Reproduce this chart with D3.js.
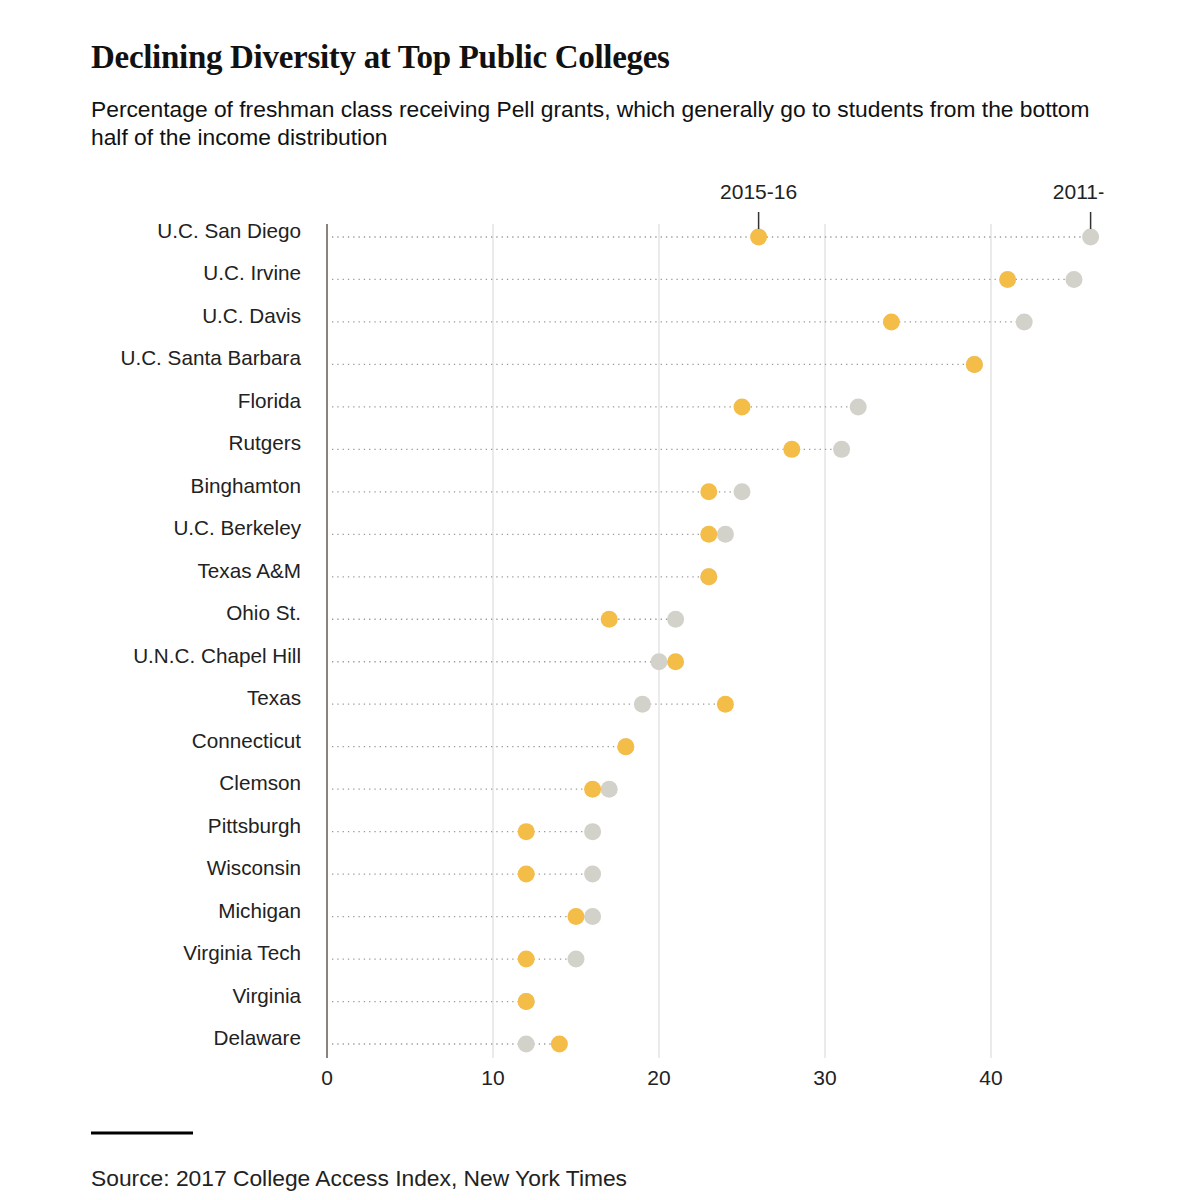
<!DOCTYPE html>
<meta charset="utf-8">
<script src="https://d3js.org/d3.v7.min.js"></script>
<style>
  body { margin: 0; background: #fff; }
</style>
<div id="my_dataviz"></div>
<script>
    // colleges, top to bottom
    var colleges = ["U.C. San Diego", "U.C. Irvine", "U.C. Davis", "U.C. Santa Barbara", "Florida",
        "Rutgers", "Binghamton", "U.C. Berkeley", "Texas A&M", "Ohio St.", "U.N.C. Chapel Hill",
        "Texas", "Connecticut", "Clemson", "Pittsburgh", "Wisconsin", "Michigan",
        "Virginia Tech", "Virginia", "Delaware"];
    // percent of freshmen with Pell grants
    var pell2011 = [46, 45, 42, 39, 32, 31, 25, 24, 23, 21, 20, 19, 18, 17, 16, 16, 16, 15, 12, 12];
    var pell2015 = [26, 41, 34, 39, 25, 28, 23, 23, 23, 17, 21, 24, 18, 16, 12, 12, 15, 12, 12, 14];
    var xTicks = [0, 10, 20, 30, 40];

    var W = 1195, H = 1200;
    var svg = d3.select("#my_dataviz")
      .append("svg")
        .attr("width", W)
        .attr("height", H)
        .style("font-family", "'Liberation Sans', Arial, sans-serif");

    // title + subtitle
    svg.append("text")
        .attr("x", 91).attr("y", 68)
        .text("Declining Diversity at Top Public Colleges")
        .style("font-family", "'Liberation Serif', 'DejaVu Serif', serif")
        .style("font-weight", "bold")
        .style("font-size", "33px")
        .style("letter-spacing", "-0.3px")
        .attr("fill", "#111");
    svg.append("text")
        .attr("x", 91).attr("y", 117)
        .text("Percentage of freshman class receiving Pell grants, which generally go to students from the bottom")
        .style("font-size", "22.8px")
        .attr("fill", "#111");
    svg.append("text")
        .attr("x", 91).attr("y", 145)
        .text("half of the income distribution")
        .style("font-size", "22.8px")
        .attr("fill", "#111");

    var x = d3.scaleLinear().domain([0, 40]).range([327, 991]);
    var y = d3.scalePoint().domain(colleges).range([237, 1044]);

    // grid lines
    svg.append("g")
      .selectAll("line")
      .data(xTicks.slice(1))
      .enter().append("line")
        .attr("x1", function(d){ return x(d) })
        .attr("x2", function(d){ return x(d) })
        .attr("y1", 224).attr("y2", 1058)
        .attr("stroke", "#e4e4e4")
        .attr("stroke-width", 1.5);

    // tick labels
    svg.append("g")
      .selectAll("text")
      .data(xTicks)
      .enter().append("text")
        .attr("x", function(d){ return x(d) })
        .attr("y", 1085)
        .attr("text-anchor", "middle")
        .text(function(d){ return d })
        .style("font-size", "21px")
        .attr("fill", "#222");

    // zero axis
    svg.append("line")
        .attr("x1", x(0)).attr("x2", x(0))
        .attr("y1", 224).attr("y2", 1058)
        .attr("stroke", "#8c847c")
        .attr("stroke-width", 2);

    var rows = colleges.map(function(c, i){
        return { name: c, a: pell2011[i], b: pell2015[i] };
    });

    // dotted leaders
    svg.append("g")
      .selectAll("line")
      .data(rows)
      .enter().append("line")
        .attr("x1", 332)
        .attr("x2", function(d){ return x(Math.max(d.a, d.b)) })
        .attr("y1", function(d){ return y(d.name) })
        .attr("y2", function(d){ return y(d.name) })
        .attr("stroke", "#999")
        .attr("stroke-width", 1.3)
        .attr("stroke-dasharray", "1.3,4");

    // college labels
    svg.append("g")
      .selectAll("text")
      .data(rows)
      .enter().append("text")
        .attr("x", 301)
        .attr("y", function(d){ return y(d.name) + 1 })
        .attr("text-anchor", "end")
        .text(function(d){ return d.name })
        .style("font-size", "20.7px")
        .attr("fill", "#222");

    // 2011-12 dots
    svg.append("g")
      .selectAll("circle")
      .data(rows)
      .enter().append("circle")
        .attr("cx", function(d){ return x(d.a) })
        .attr("cy", function(d){ return y(d.name) })
        .attr("r", 8.5)
        .attr("fill", "#d2d1ca");

    // 2015-16 dots
    svg.append("g")
      .selectAll("circle")
      .data(rows)
      .enter().append("circle")
        .attr("cx", function(d){ return x(d.b) })
        .attr("cy", function(d){ return y(d.name) })
        .attr("r", 8.5)
        .attr("fill", "#f4bd48");

    // series annotations on top row (right one is cut off as in the original)
    svg.append("clipPath").attr("id", "clipR")
      .append("rect").attr("x", 0).attr("y", 0).attr("width", 1103.5).attr("height", H);
    var ann = [
        { label: "2015-16", v: rows[0].b },
        { label: "2011-12", v: rows[0].a }
    ];
    var annG = svg.append("g").attr("clip-path", "url(#clipR)");
    annG.selectAll("line")
      .data(ann)
      .enter().append("line")
        .attr("x1", function(d){ return x(d.v) })
        .attr("x2", function(d){ return x(d.v) })
        .attr("y1", 212).attr("y2", y(colleges[0]) - 8)
        .attr("stroke", "#333")
        .attr("stroke-width", 1.5);
    annG.selectAll("text")
      .data(ann)
      .enter().append("text")
        .attr("x", function(d){ return x(d.v) })
        .attr("y", 199)
        .attr("text-anchor", "middle")
        .text(function(d){ return d.label })
        .style("font-size", "21px")
        .attr("fill", "#222");

    // footer
    svg.append("line")
        .attr("x1", 91).attr("x2", 193)
        .attr("y1", 1133).attr("y2", 1133)
        .attr("stroke", "#000")
        .attr("stroke-width", 3);
    svg.append("text")
        .attr("x", 91).attr("y", 1186)
        .text("Source: 2017 College Access Index, New York Times")
        .style("font-size", "22.8px")
        .attr("fill", "#222");
</script>
